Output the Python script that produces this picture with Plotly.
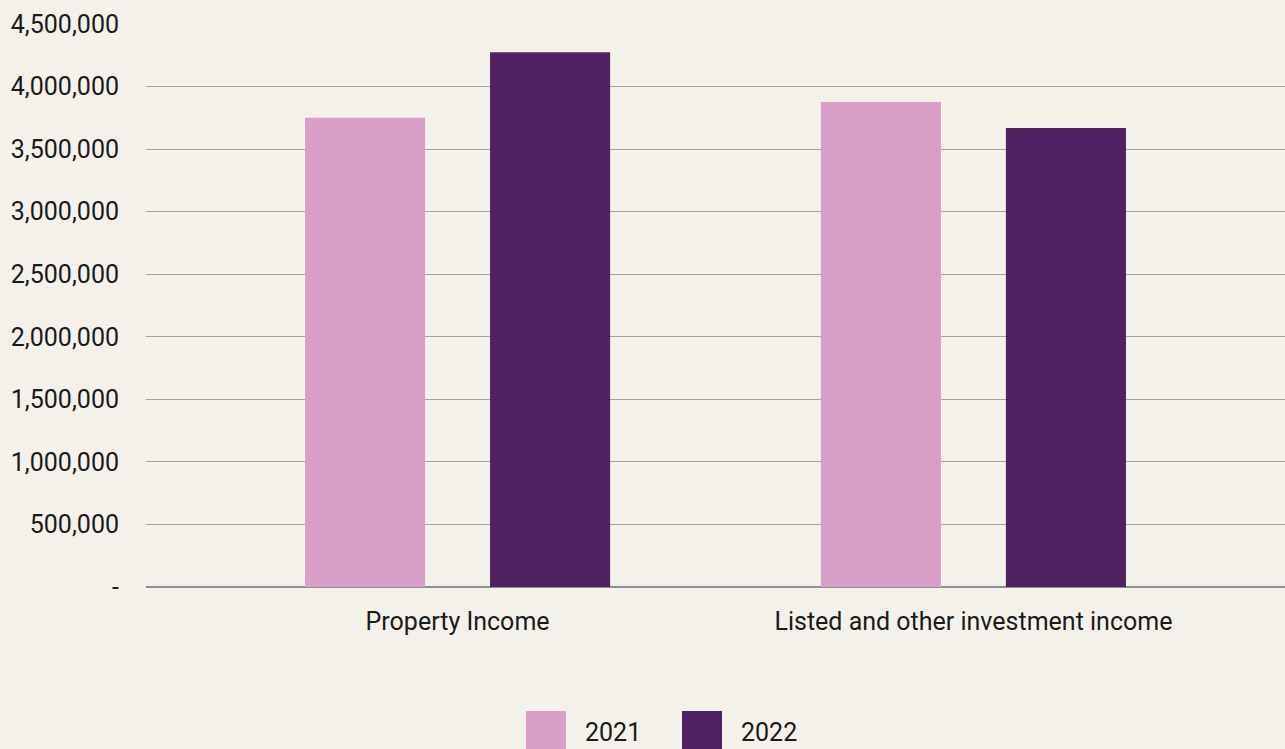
import plotly.graph_objects as go

# Income by source, two reporting years
categories = ["Property Income", "Listed and other investment income"]
years = ["2021", "2022"]
values_2021 = [3750000, 3877000]
values_2022 = [4275000, 3669000]

y_tickvals = [0, 500000, 1000000, 1500000, 2000000, 2500000, 3000000, 3500000, 4000000, 4500000]
y_ticktext = ["-", "500,000", "1,000,000", "1,500,000", "2,000,000", "2,500,000",
              "3,000,000", "3,500,000", "4,000,000", "4,500,000"]

colors = ["#D99FC8", "#512262"]
bg = "#F4F1EA"
font_family = "Roboto, Arial, sans-serif"
font_size = 25

W, H = 1285, 749
margin = dict(l=146, r=0, t=24, b=162)

fig = go.Figure()
for name, vals, col in zip(years, [values_2021, values_2022], colors):
    fig.add_trace(go.Bar(
        x=[0, 1], y=vals, name=name,
        marker=dict(color=col, line=dict(width=0)),
        showlegend=False,
    ))

fig.update_layout(
    width=W, height=H,
    margin=margin,
    paper_bgcolor=bg, plot_bgcolor=bg,
    barmode="group", bargap=0.2827, bargroupgap=0.351,
    font=dict(family=font_family, size=font_size, color="#1a1a1a"),
    xaxis=dict(
        range=[-0.604, 1.604],
        tickvals=[0, 1], ticktext=categories,
        showgrid=False, zeroline=False, showline=False,
        ticks="", ticklabelstandoff=17,
        tickfont=dict(size=font_size, color="#1a1a1a"),
    ),
    yaxis=dict(
        range=[0, 4500000],
        tickvals=y_tickvals, ticktext=y_ticktext,
        showgrid=True, gridcolor="#A6A5A2", gridwidth=1.3,
        zeroline=True, zerolinecolor="#8E8E8E", zerolinewidth=1.6,
        showline=False,
        ticks="", ticklabelstandoff=26,
        tickfont=dict(size=font_size, color="#1a1a1a"),
    ),
)

# Legend drawn as large swatches with labels below the plot
plot_w = W - margin["l"] - margin["r"]
plot_h = H - margin["t"] - margin["b"]

def px_to_paper_x(px):
    return (px - margin["l"]) / plot_w

def px_to_paper_y(py):
    return (H - margin["b"] - py) / plot_h

swatch_left = [526, 682]
for name, col, left in zip(years, colors, swatch_left):
    fig.add_shape(
        type="rect", xref="paper", yref="paper",
        x0=px_to_paper_x(left), x1=px_to_paper_x(left + 40),
        y0=px_to_paper_y(751), y1=px_to_paper_y(711),
        fillcolor=col, line=dict(width=0), layer="above",
    )
    fig.add_annotation(
        xref="paper", yref="paper",
        x=px_to_paper_x(left + 57), y=px_to_paper_y(732),
        text=name, showarrow=False, xanchor="left", yanchor="middle",
        font=dict(size=font_size, color="#1a1a1a", family=font_family),
    )

fig.write_html("out.html")
